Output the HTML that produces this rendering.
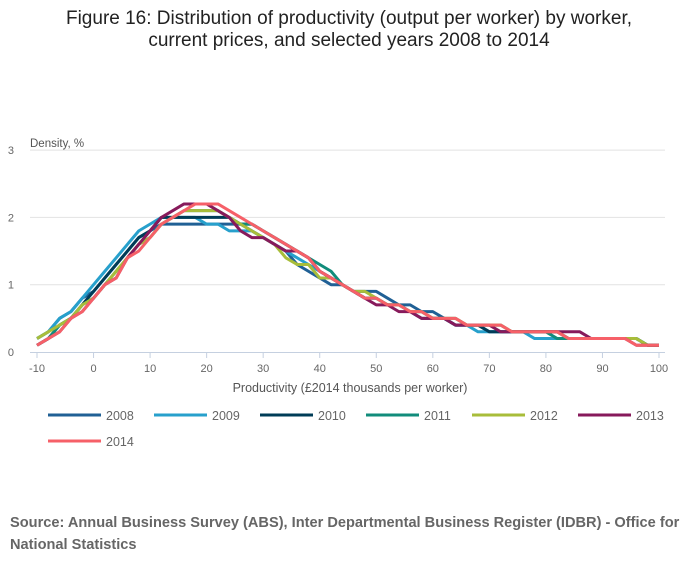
<!DOCTYPE html>
<html><head><meta charset="utf-8"><style>
body{margin:0;background:#fff;width:700px;height:574px;overflow:hidden;font-family:"Liberation Sans",sans-serif}
</style></head><body>
<svg width="700" height="574" id="svg">
<text x="349" y="24" text-anchor="middle" font-size="19" fill="#222">Figure 16: Distribution of productivity (output per worker) by worker,</text>
<text x="349" y="46" text-anchor="middle" font-size="19" fill="#222">current prices, and selected years 2008 to 2014</text>
<text x="30" y="147" font-size="11.5" fill="#555">Density, %</text>
<text x="350" y="392" text-anchor="middle" font-size="12.5" fill="#555">Productivity (£2014 thousands per worker)</text>
<g id="grid"></g><g id="series"></g><g id="legend"></g>
<text x="10" y="527" font-size="14.6" font-weight="bold" fill="#666">Source: Annual Business Survey (ABS), Inter Departmental Business Register (IDBR) - Office for</text>
<text x="10" y="549" font-size="14.6" font-weight="bold" fill="#666">National Statistics</text>
</svg>
<script>
const xs=[-10,-8,-6,-4,-2,0,2,4,6,8,10,12,14,16,18,20,22,24,26,28,30,32,34,36,38,40,42,44,46,48,50,52,54,56,58,60,62,64,66,68,70,72,74,76,78,80,82,84,86,88,90,92,94,96,98,100];
const xTicks=[-10,0,10,20,30,40,50,60,70,80,90,100];
const yTicks=[0,1,2,3];
const years=["2008","2009","2010","2011","2012","2013","2014"];
const colors=["#206095","#27a0cc","#003c57","#118c7b","#a8bd3a","#871a5b","#f66068"];
const s2008=[0.2,0.3,0.5,0.6,0.8,0.9,1.1,1.3,1.5,1.7,1.8,1.9,1.9,1.9,1.9,1.9,1.9,1.9,1.9,1.8,1.7,1.6,1.5,1.3,1.2,1.1,1.0,1.0,0.9,0.9,0.9,0.8,0.7,0.7,0.6,0.6,0.5,0.4,0.4,0.4,0.3,0.3,0.3,0.3,0.3,0.3,0.3,0.2,0.2,0.2,0.2,0.2,0.2,0.2,0.1,0.1];
const s2009=[0.2,0.3,0.5,0.6,0.8,1.0,1.2,1.4,1.6,1.8,1.9,2.0,2.0,2.0,2.0,1.9,1.9,1.8,1.8,1.8,1.7,1.6,1.5,1.4,1.3,1.2,1.1,1.0,0.9,0.8,0.8,0.7,0.7,0.6,0.6,0.5,0.5,0.4,0.4,0.3,0.3,0.3,0.3,0.3,0.2,0.2,0.2,0.2,0.2,0.2,0.2,0.2,0.2,0.2,0.1,0.1];
const s2010=[0.1,0.2,0.4,0.5,0.7,0.9,1.1,1.3,1.5,1.7,1.8,2.0,2.0,2.0,2.0,2.0,2.0,2.0,1.9,1.9,1.8,1.7,1.6,1.5,1.4,1.2,1.1,1.0,0.9,0.8,0.8,0.7,0.7,0.6,0.5,0.5,0.5,0.4,0.4,0.4,0.3,0.3,0.3,0.3,0.3,0.3,0.3,0.2,0.2,0.2,0.2,0.2,0.2,0.2,0.1,0.1];
const s2011=[0.1,0.2,0.4,0.5,0.7,0.8,1.0,1.2,1.4,1.6,1.7,1.9,2.0,2.1,2.1,2.1,2.1,2.0,1.9,1.9,1.8,1.7,1.6,1.5,1.4,1.3,1.2,1.0,0.9,0.8,0.8,0.7,0.7,0.6,0.6,0.5,0.5,0.5,0.4,0.4,0.4,0.4,0.3,0.3,0.3,0.3,0.2,0.2,0.2,0.2,0.2,0.2,0.2,0.2,0.1,0.1];
const s2012=[0.2,0.3,0.4,0.5,0.7,0.8,1.0,1.2,1.4,1.6,1.7,1.9,2.0,2.1,2.1,2.1,2.1,2.0,1.9,1.8,1.7,1.6,1.4,1.3,1.3,1.1,1.1,1.0,0.9,0.9,0.8,0.7,0.7,0.6,0.6,0.5,0.5,0.5,0.4,0.4,0.4,0.4,0.3,0.3,0.3,0.3,0.3,0.2,0.2,0.2,0.2,0.2,0.2,0.2,0.1,0.1];
const s2013=[0.1,0.2,0.3,0.5,0.6,0.8,1.0,1.1,1.4,1.6,1.8,2.0,2.1,2.2,2.2,2.2,2.1,2.0,1.8,1.7,1.7,1.6,1.5,1.5,1.4,1.2,1.1,1.0,0.9,0.8,0.7,0.7,0.6,0.6,0.5,0.5,0.5,0.4,0.4,0.4,0.4,0.3,0.3,0.3,0.3,0.3,0.3,0.3,0.3,0.2,0.2,0.2,0.2,0.1,0.1,0.1];
const s2014=[0.1,0.2,0.3,0.5,0.6,0.8,1.0,1.1,1.4,1.5,1.7,1.9,2.0,2.1,2.2,2.2,2.2,2.1,2.0,1.9,1.8,1.7,1.6,1.5,1.4,1.2,1.1,1.0,0.9,0.8,0.8,0.7,0.7,0.6,0.6,0.5,0.5,0.5,0.4,0.4,0.4,0.4,0.3,0.3,0.3,0.3,0.3,0.2,0.2,0.2,0.2,0.2,0.2,0.1,0.1,0.1];
const seriesData=[s2008,s2009,s2010,s2011,s2012,s2013,s2014];
const NS="http://www.w3.org/2000/svg";
const X=v=>37+(v+10)*(622/110);
const Y=v=>352-v*67.3;
function mk(tag,attrs,parent){const e=document.createElementNS(NS,tag);for(const k in attrs)e.setAttribute(k,attrs[k]);parent.appendChild(e);return e;}
const grid=document.getElementById('grid');
yTicks.forEach(t=>{
  if(t>0){const l=mk('line',{x1:30,x2:665,y1:Y(t),y2:Y(t),stroke:'#e2e2e2','stroke-width':1},grid);
  
  }
  const tx=mk('text',{x:14,y:Y(t)+4,'font-size':11,fill:'#666','text-anchor':'end'},grid);
  tx.textContent=t;
  
  
});
const ax=mk('line',{x1:30,x2:665,y1:352.5,y2:352.5,stroke:'#c5d0e0','stroke-width':1},grid);


xTicks.forEach(t=>{
  const tk=mk('line',{x1:X(t),x2:X(t),y1:352,y2:358,stroke:'#c5d0e0'},grid);
  
  
  const tx=mk('text',{x:X(t),y:372,'font-size':11,fill:'#666','text-anchor':'middle'},grid);
  tx.textContent=t;
  
  
});
const sg=document.getElementById('series');
seriesData.forEach((d,i)=>{
  const p=mk('polyline',{points:d.map((v,j)=>X(xs[j])+','+Y(v)).join(' '),fill:'none',stroke:colors[i],'stroke-width':3,'stroke-linejoin':'round'},sg);
  
  
});
const lg=document.getElementById('legend');
years.forEach((y,i)=>{
  const col=i%6,row=Math.floor(i/6);
  const lx=48+col*106,ly=415+row*26;
  const g=mk('g',{},lg);
  
  
  mk('line',{x1:lx,x2:lx+53,y1:ly,y2:ly,stroke:colors[i],'stroke-width':3},g);
  const t=mk('text',{x:lx+58,y:ly+5,'font-size':12.5,fill:'#666'},g);
  t.textContent=y;
});
</script>
</body></html>
